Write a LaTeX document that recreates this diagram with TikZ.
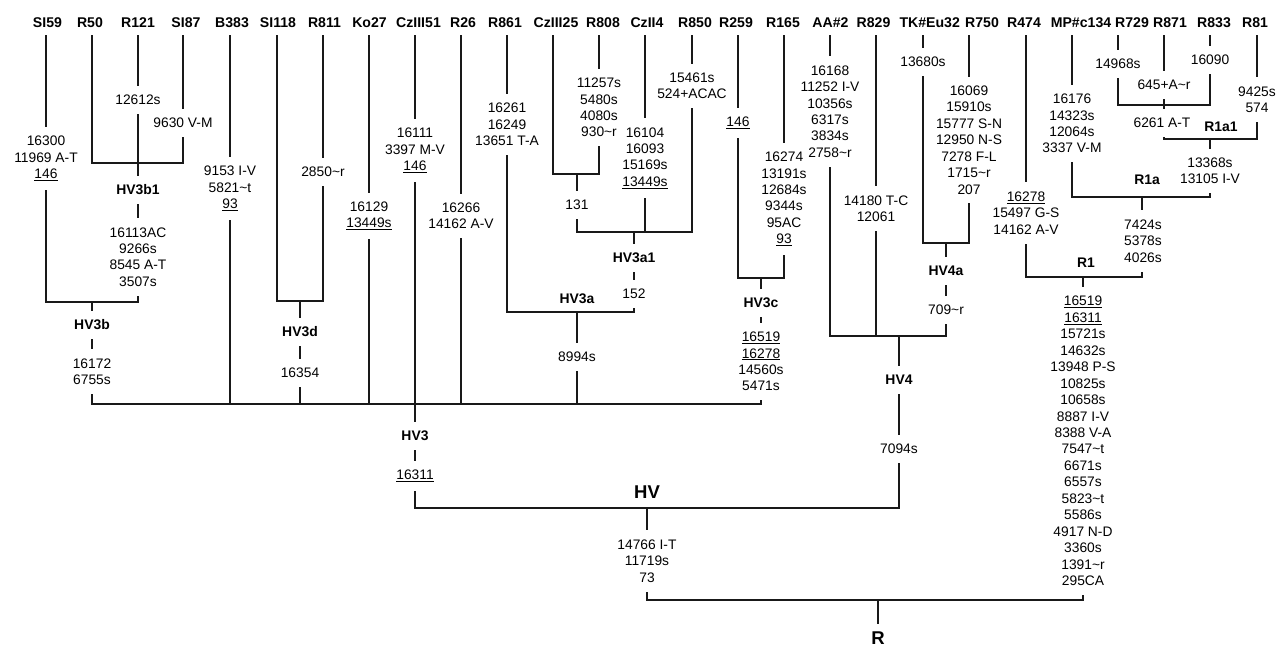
\documentclass[tikz,border=0pt]{standalone}
\usepackage{fontspec}
\setmainfont{Liberation Sans}
\newcommand\tl{\textasciitilde}
\begin{document}
\begin{tikzpicture}[x=1pt,y=-1pt,
 lf/.style={font=\fontsize{14.1}{16.45}\selectfont\bfseries, inner sep=0pt, outer xsep=0pt, outer ysep=9pt, text height=10.1pt, text depth=0pt},
 mt/.style={font=\fontsize{13.8}{16.45}\selectfont, align=center, inner sep=0pt, outer xsep=0pt, outer ysep=10pt},
 cl/.style={font=\fontsize{13.9}{16.45}\selectfont\bfseries, inner sep=0pt, outer xsep=0pt, outer ysep=10pt, text height=9.9pt, text depth=0pt},
 big/.style={font=\fontsize{18.5}{22}\selectfont\bfseries, inner sep=0pt, outer ysep=8pt, text height=13.3pt, text depth=0pt},
 br/.style={line width=1.6pt, draw=black!90, line cap=rect}]
\useasboundingbox[fill=white] (0,0) rectangle (1279,646);
% leaves
\node[lf] (SI59) at (47.5,22) {SI59};
\node[lf] (R50) at (90,22) {R50};
\node[lf] (R121) at (138,22) {R121};
\node[lf] (SI87) at (186,22) {SI87};
\node[lf] (B383) at (232,22) {B383};
\node[lf] (SI118) at (278,22) {SI118};
\node[lf] (R811) at (324.5,22) {R811};
\node[lf] (Ko27) at (369.5,22) {Ko27};
\node[lf] (CzIII51) at (418.5,22) {CzIII51};
\node[lf] (R26) at (463,22) {R26};
\node[lf] (R861) at (505,22) {R861};
\node[lf] (CzIII25) at (556,22) {CzIII25};
\node[lf] (R808) at (603,22) {R808};
\node[lf] (CzII4) at (647,22) {CzII4};
\node[lf] (R850) at (695,22) {R850};
\node[lf] (R259) at (736,22) {R259};
\node[lf] (R165) at (783,22) {R165};
\node[lf] (AA) at (830.5,22) {AA\#2};
\node[lf] (R829) at (873.5,22) {R829};
\node[lf] (TK) at (929.7,22) {TK\#Eu32};
\node[lf] (R750) at (982,22) {R750};
\node[lf] (R474) at (1024,22) {R474};
\node[lf] (MP) at (1081,22) {MP\#c134};
\node[lf] (R729) at (1132,22) {R729};
\node[lf] (R871) at (1170,22) {R871};
\node[lf] (R833) at (1214,22) {R833};
\node[lf] (R81) at (1255,22) {R81};
% join points
\coordinate (j3b1) at (138,163);
\coordinate (xR50) at (92,163);
\coordinate (j3b) at (92,302);
\coordinate (j3d) at (300,301);
\coordinate (xSI118) at (277,301);
\coordinate (j131) at (577,174);
\coordinate (xCz25) at (553,174);
\coordinate (j3a1) at (634,232);
\coordinate (j3a) at (577,312);
\coordinate (j3c) at (761,278);
\coordinate (j3) at (415,404);
\coordinate (j4a) at (946,243);
\coordinate (j4) at (899,336);
\coordinate (jHV) at (647,508);
\coordinate (j871) at (1164,105);
\coordinate (j1a1) at (1210,139);
\coordinate (j1a) at (1142,197);
\coordinate (j1) at (1083,277);
\coordinate (jR) at (878,600);
% mutation texts and clade labels
\node[mt] (mSI59) at (46,158.5) {16300\\11969 A-T\\\underline{146}};
\node[mt] (mR121) at (138,100) {12612s};
\node[mt] (mSI87) at (183,123) {9630 V-M};
\node[cl] (L3b1) at (138,190) {HV3b1};
\node[mt] (m3b1) at (138,257) {16113AC\\9266s\\8545 A-T\\3507s};
\node[cl] (L3b) at (92,325) {HV3b};
\node[mt] (m3b) at (92,371.5) {16172\\6755s};
\node[mt] (mB383) at (230,188.5) {9153 I-V\\5821\tl t\\\underline{93}};
\node[mt] (mR811) at (323,172) {2850\tl r};
\node[cl] (L3d) at (300,332) {HV3d};
\node[mt] (m3d) at (300,373) {16354};
\node[mt] (mKo27) at (369,216) {16129\\\underline{13449s}};
\node[mt] (mCz51) at (415,150.5) {16111\\3397 M-V\\\underline{146}};
\node[mt] (mR26) at (461,216) {16266\\14162 A-V};
\node[mt] (mR861) at (507,124.5) {16261\\16249\\13651 T-A};
\node[mt] (mR808) at (599,107.5) {11257s\\5480s\\4080s\\930\tl r};
\node[mt] (m131) at (577,205) {131};
\node[mt] (mCz4) at (645,158) {16104\\16093\\15169s\\\underline{13449s}};
\node[mt] (mR850) at (692,86) {15461s\\524+ACAC};
\node[cl] (L3a1) at (634,258) {HV3a1};
\node[mt] (m3a1) at (634,294) {152};
\node[cl] (L3a) at (577,299) {HV3a};
\node[mt] (m3a) at (577,357) {8994s};
\node[mt] (mR259) at (738,123) {\underline{146}};
\node[mt] (mR165) at (784,199) {16274\\13191s\\12684s\\9344s\\95AC\\\underline{93}};
\node[cl] (L3c) at (761,303) {HV3c};
\node[mt] (m3c) at (761,361.5) {\underline{16519}\\\underline{16278}\\14560s\\5471s};
\node[cl] (L3) at (415,436) {HV3};
\node[mt] (m3) at (415,476) {\underline{16311}};
\node[mt] (mAA) at (830,111.5) {16168\\11252 I-V\\10356s\\6317s\\3834s\\2758\tl r};
\node[mt] (mR829) at (876,208.5) {14180 T-C\\12061};
\node[mt] (mTK) at (923,62) {13680s};
\node[mt] (mR750) at (969,140) {16069\\15910s\\15777 S-N\\12950 N-S\\7278 F-L\\1715\tl r\\207};
\node[cl] (L4a) at (946,271) {HV4a};
\node[mt] (m4a) at (946,310) {709\tl r};
\node[cl] (L4) at (899,380) {HV4};
\node[mt] (m4) at (899,449) {7094s};
\node[big] (LHV) at (647,492) {HV};
\node[mt] (mHV) at (647,561) {14766 I-T\\11719s\\73};
\node[mt] (mR729) at (1118,64) {14968s};
\node[mt] (mR833) at (1210,60) {16090};
\node[mt] (mR871) at (1164,85) {645+A\tl r};
\node[mt] (m871) at (1162,123) {6261 A-T};
\node[mt] (mR81) at (1257,99.5) {9425s\\574};
\node[cl] (L1a1) at (1221,127) {R1a1};
\node[mt] (m1a1) at (1210,171) {13368s\\13105 I-V};
\node[mt] (mMP) at (1072,123.5) {16176\\14323s\\12064s\\3337 V-M};
\node[cl] (L1a) at (1147,180) {R1a};
\node[mt] (m1a) at (1143,241) {7424s\\5378s\\4026s};
\node[mt] (mR474) at (1026,213) {\underline{16278}\\15497 G-S\\14162 A-V};
\node[cl] (L1) at (1086,263) {R1};
\node[mt] (m1) at (1083,441) {\underline{16519}\\\underline{16311}\\15721s\\14632s\\13948 P-S\\10825s\\10658s\\8887 I-V\\8388 V-A\\7547\tl t\\6671s\\6557s\\5823\tl t\\5586s\\4917 N-D\\3360s\\1391\tl r\\295CA};
\node[big] (LR) at (878,638) {R};
% HV3b1
\draw[br] (xR50 |- R50.south) -- (xR50);
\draw[br] (mR121 |- R121.south) -- (mR121) -- (L3b1);
\draw[br] (mSI87 |- SI87.south) -- (mSI87) -- (mSI87 |- j3b1);
\draw[br] (xR50) -- (mSI87 |- j3b1);
\draw[br] (L3b1) -- (m3b1) -- (m3b1 |- j3b);
% HV3b
\draw[br] (mSI59 |- SI59.south) -- (mSI59) -- (mSI59 |- j3b);
\draw[br] (mSI59 |- j3b) -- (m3b1 |- j3b);
\draw[br] (j3b) -- (L3b) -- (m3b) -- (m3b |- j3);
% B383
\draw[br] (mB383 |- B383.south) -- (mB383) -- (mB383 |- j3);
% HV3d
\draw[br] (xSI118 |- SI118.south) -- (xSI118);
\draw[br] (mR811 |- R811.south) -- (mR811) -- (mR811 |- j3d);
\draw[br] (xSI118) -- (mR811 |- j3d);
\draw[br] (j3d) -- (L3d) -- (m3d) -- (m3d |- j3);
% Ko27, CzIII51, R26
\draw[br] (mKo27 |- Ko27.south) -- (mKo27) -- (mKo27 |- j3);
\draw[br] (mCz51 |- CzIII51.south) -- (mCz51) -- (L3);
\draw[br] (mR26 |- R26.south) -- (mR26) -- (mR26 |- j3);
% HV3a
\draw[br] (mR861 |- R861.south) -- (mR861) -- (mR861 |- j3a);
\draw[br] (xCz25 |- CzIII25.south) -- (xCz25);
\draw[br] (mR808 |- R808.south) -- (mR808) -- (mR808 |- j131);
\draw[br] (xCz25) -- (mR808 |- j131);
\draw[br] (j131) -- (m131) -- (m131 |- j3a1);
\draw[br] (mCz4 |- CzII4.south) -- (mCz4) -- (mCz4 |- j3a1);
\draw[br] (mR850 |- R850.south) -- (mR850) -- (mR850 |- j3a1);
\draw[br] (m131 |- j3a1) -- (mR850 |- j3a1);
\draw[br] (j3a1) -- (L3a1) -- (m3a1) -- (m3a1 |- j3a);
\draw[br] (mR861 |- j3a) -- (m3a1 |- j3a);
\draw[br] (j3a) -- (m3a) -- (m3a |- j3);
% HV3c
\draw[br] (mR259 |- R259.south) -- (mR259) -- (mR259 |- j3c);
\draw[br] (mR165 |- R165.south) -- (mR165) -- (mR165 |- j3c);
\draw[br] (mR259 |- j3c) -- (mR165 |- j3c);
\draw[br] (j3c) -- (L3c) -- (m3c) -- (m3c |- j3);
% HV3
\draw[br] (m3b |- j3) -- (m3c |- j3);
\draw[br] (L3) -- (m3) -- (m3 |- jHV);
% HV4
\draw[br] (mAA |- AA.south) -- (mAA) -- (mAA |- j4);
\draw[br] (mR829 |- R829.south) -- (mR829) -- (mR829 |- j4);
\draw[br] (mTK |- TK.south) -- (mTK) -- (mTK |- j4a);
\draw[br] (mR750 |- R750.south) -- (mR750) -- (mR750 |- j4a);
\draw[br] (mTK |- j4a) -- (mR750 |- j4a);
\draw[br] (j4a) -- (L4a) -- (m4a) -- (m4a |- j4);
\draw[br] (mAA |- j4) -- (m4a |- j4);
\draw[br] (j4) -- (L4) -- (m4) -- (m4 |- jHV);
% HV
\draw[br] (m3 |- jHV) -- (m4 |- jHV);
\draw[br] (jHV) -- (mHV) -- (mHV |- jR);
% R1
\draw[br] (mR729 |- R729.south) -- (mR729) -- (mR729 |- j871);
\draw[br] (mR833 |- R833.south) -- (mR833) -- (mR833 |- j871);
\draw[br] (mR871 |- R871.south) -- (mR871) -- (mR871 |- m871.north);
\draw[br] (mR729 |- j871) -- (mR833 |- j871);
\draw[br] (mR871 |- m871.south) -- (mR871 |- j1a1);
\draw[br] (mR81 |- R81.south) -- (mR81) -- (mR81 |- j1a1);
\draw[br] (mR871 |- j1a1) -- (mR81 |- j1a1);
\draw[br] (j1a1) -- (m1a1) -- (m1a1 |- j1a);
\draw[br] (mMP |- MP.south) -- (mMP) -- (mMP |- j1a);
\draw[br] (mMP |- j1a) -- (m1a1 |- j1a);
\draw[br] (j1a) -- (j1a |- m1a.north);
\draw[br] (j1a |- m1a.south) -- (j1a |- j1);
\draw[br] (mR474 |- R474.south) -- (mR474) -- (mR474 |- j1);
\draw[br] (mR474 |- j1) -- (j1a |- j1);
\draw[br] (j1) -- (m1) -- (m1 |- jR);
\draw[br] (mHV |- jR) -- (m1 |- jR);
\draw[br] (jR) -- (LR);
\end{tikzpicture}
\end{document}
